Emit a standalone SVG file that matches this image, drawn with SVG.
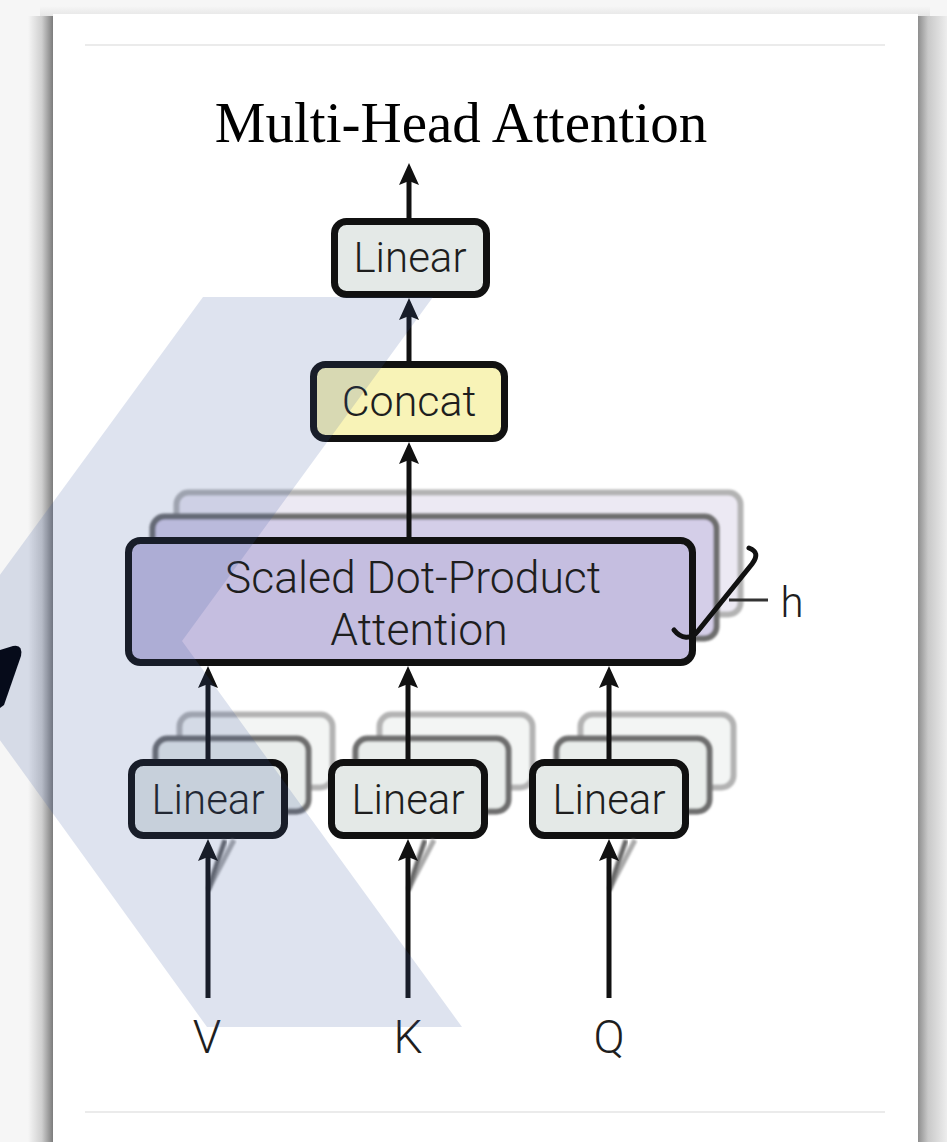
<svg xmlns="http://www.w3.org/2000/svg" width="947" height="1142" viewBox="0 0 947 1142">
<defs>
<style>
.box{stroke:#111;stroke-width:7}
.mid{stroke:#6e6e6e;stroke-width:6}
.back{stroke:#b3b3b3;stroke-width:6}
.lbl{font-family:Roboto,"Liberation Sans",Arial,sans-serif;font-weight:300;fill:#1e1e1e;text-anchor:middle}
.blk{stroke:#111;stroke-width:5;fill:none}
.dg{stroke:#6b6b6b;stroke-width:5;fill:none}
.lg{stroke:#ababab;stroke-width:5;fill:none}
</style>
<filter id="soft" x="-10%" y="-10%" width="120%" height="120%"><feGaussianBlur stdDeviation="0.9"/></filter>
<linearGradient id="shL" x1="0" y1="0" x2="1" y2="0"><stop offset="0" stop-color="#f6f6f6"/><stop offset="0.55" stop-color="#cfcfcf"/><stop offset="1" stop-color="#7c7c7c"/></linearGradient>
<linearGradient id="shR" x1="0" y1="0" x2="1" y2="0"><stop offset="0" stop-color="#8e8e8e"/><stop offset="0.35" stop-color="#c9c9c9"/><stop offset="1" stop-color="#ededed"/></linearGradient>
<linearGradient id="shT" x1="0" y1="0" x2="0" y2="1"><stop offset="0" stop-color="#f6f6f6"/><stop offset="1" stop-color="#e6e6e6"/></linearGradient>
<marker id="ahB" viewBox="0 0 22 20" refX="8" refY="10" markerWidth="22" markerHeight="20" markerUnits="userSpaceOnUse" orient="auto"><path d="M0,0 L22,10 L0,20 L4,10 z" fill="#111"/></marker>
<marker id="ahD" viewBox="0 0 22 20" refX="8" refY="10" markerWidth="22" markerHeight="20" markerUnits="userSpaceOnUse" orient="auto"><path d="M0,0 L22,10 L0,20 L4,10 z" fill="#6b6b6b"/></marker>
<marker id="ahL" viewBox="0 0 22 20" refX="8" refY="10" markerWidth="22" markerHeight="20" markerUnits="userSpaceOnUse" orient="auto"><path d="M0,0 L22,10 L0,20 L4,10 z" fill="#ababab"/></marker>
</defs>

<g id="page">
<rect x="0" y="0" width="947" height="1142" fill="#f6f6f6"/>
<rect x="40" y="6" width="890" height="10" fill="url(#shT)"/>
<rect x="28" y="16" width="25" height="1126" fill="url(#shL)"/>
<rect x="918" y="16" width="29" height="1126" fill="url(#shR)"/>
<rect x="53" y="14" width="865" height="1128" fill="#ffffff"/>
<line x1="85" y1="45" x2="885" y2="45" stroke="#e5e5e5" stroke-width="1.5"/>
<line x1="85" y1="1112" x2="885" y2="1112" stroke="#e5e5e5" stroke-width="1.5"/>
</g>

<g id="title">
<text x="461" y="142" font-family="'Liberation Serif','Times New Roman',serif" font-size="57" fill="#000" text-anchor="middle">Multi-Head Attention</text>
</g>

<g id="linear-out">
<rect class="box" x="334.5" y="221.5" width="152" height="73" rx="12" fill="#e4e9e7"/>
<text class="lbl" x="410" y="272" font-size="42">Linear</text>
</g>

<g id="concat">
<rect class="box" x="313.5" y="364.5" width="191" height="74" rx="12" fill="#f8f3b7"/>
<text class="lbl" x="409" y="416" font-size="43">Concat</text>
</g>

<g id="sdpa">
<rect class="back" x="176.5" y="492.5" width="564" height="122" rx="12" fill="#ece9f3" filter="url(#soft)"/>
<rect class="mid" x="152.5" y="516.5" width="564" height="122" rx="12" fill="#d4cee8" filter="url(#soft)"/>
<rect class="box" x="128.5" y="540.5" width="564" height="122" rx="12" fill="#c5bee0"/>
<text class="lbl" x="413" y="593" font-size="44.5">Scaled Dot-Product</text>
<text class="lbl" x="419" y="645" font-size="44.5">Attention</text>
</g>

<g id="heads">
<path d="M674,630 C681,639 691,640 698,631 L752,564 C758,556 757,551 749,548" fill="none" stroke="#111" stroke-width="5" stroke-linecap="round"/>
<line x1="729" y1="600" x2="768" y2="600" stroke="#333" stroke-width="3"/>
<text class="lbl" x="792" y="617" font-size="42" fill="#2a2a2a">h</text>
</g>

<g id="linear-v">
<rect class="back" x="179.5" y="714.5" width="153" height="73" rx="12" fill="#f3f5f4" filter="url(#soft)"/>
<rect class="mid" x="155.5" y="738.5" width="153" height="73" rx="12" fill="#e9edeb" filter="url(#soft)"/>
<rect class="box" x="131.5" y="762.5" width="153" height="73" rx="12" fill="#e4e9e7"/>
<text class="lbl" x="208" y="814" font-size="42">Linear</text>
</g>

<g id="linear-k">
<rect class="back" x="379.5" y="714.5" width="153" height="73" rx="12" fill="#f3f5f4" filter="url(#soft)"/>
<rect class="mid" x="355.5" y="738.5" width="153" height="73" rx="12" fill="#e9edeb" filter="url(#soft)"/>
<rect class="box" x="331.5" y="762.5" width="153" height="73" rx="12" fill="#e4e9e7"/>
<text class="lbl" x="408" y="814" font-size="42">Linear</text>
</g>

<g id="linear-q">
<rect class="back" x="580.5" y="714.5" width="153" height="73" rx="12" fill="#f3f5f4" filter="url(#soft)"/>
<rect class="mid" x="556.5" y="738.5" width="153" height="73" rx="12" fill="#e9edeb" filter="url(#soft)"/>
<rect class="box" x="532.5" y="762.5" width="153" height="73" rx="12" fill="#e4e9e7"/>
<text class="lbl" x="609" y="814" font-size="42">Linear</text>
</g>

<g id="inputs">
<text class="lbl" x="207" y="1053" font-size="46">V</text>
<text class="lbl" x="408" y="1053" font-size="46">K</text>
<text class="lbl" x="609" y="1053" font-size="46">Q</text>
</g>

<g id="connectors">
<line class="blk" x1="409" y1="220" x2="409" y2="177" marker-end="url(#ahB)"/>
<line class="blk" x1="409" y1="363" x2="409" y2="312" marker-end="url(#ahB)"/>
<line class="lg" x1="457" y1="490" x2="457" y2="456" marker-end="url(#ahL)" filter="url(#soft)"/>
<line class="dg" x1="433" y1="514" x2="433" y2="456" marker-end="url(#ahD)" filter="url(#soft)"/>
<line class="blk" x1="409" y1="538" x2="409" y2="456" marker-end="url(#ahB)"/>

<line class="lg" x1="256" y1="712" x2="256" y2="665" filter="url(#soft)"/>
<line class="dg" x1="232" y1="736" x2="232" y2="665" filter="url(#soft)"/>
<line class="blk" x1="208" y1="761" x2="208" y2="680" marker-end="url(#ahB)"/>
<line class="lg" x1="456" y1="712" x2="456" y2="665" filter="url(#soft)"/>
<line class="dg" x1="432" y1="736" x2="432" y2="665" filter="url(#soft)"/>
<line class="blk" x1="408" y1="761" x2="408" y2="680" marker-end="url(#ahB)"/>
<line class="lg" x1="657" y1="712" x2="657" y2="665" filter="url(#soft)"/>
<line class="dg" x1="633" y1="736" x2="633" y2="665" filter="url(#soft)"/>
<line class="blk" x1="609" y1="761" x2="609" y2="680" marker-end="url(#ahB)"/>

<line class="lg" x1="208" y1="890" x2="234" y2="840" filter="url(#soft)"/>
<line class="dg" x1="208" y1="890" x2="225" y2="840" filter="url(#soft)"/>
<line class="blk" x1="208" y1="998" x2="208" y2="853" marker-end="url(#ahB)"/>
<line class="lg" x1="408" y1="890" x2="434" y2="840" filter="url(#soft)"/>
<line class="dg" x1="408" y1="890" x2="425" y2="840" filter="url(#soft)"/>
<line class="blk" x1="408" y1="998" x2="408" y2="853" marker-end="url(#ahB)"/>
<line class="lg" x1="609" y1="890" x2="635" y2="840" filter="url(#soft)"/>
<line class="dg" x1="609" y1="890" x2="626" y2="840" filter="url(#soft)"/>
<line class="blk" x1="609" y1="998" x2="609" y2="853" marker-end="url(#ahB)"/>
</g>

<g id="watermark">
<polygon points="203,297 433,297 182,641 462,1027 207,1027 -60,657" fill="#3c5aa0" fill-opacity="0.17"/>
<path d="M0,650 L13,646 Q23,644 21,656 L4,705 L0,708 Z" fill="#060b1a"/>
</g>
</svg>
